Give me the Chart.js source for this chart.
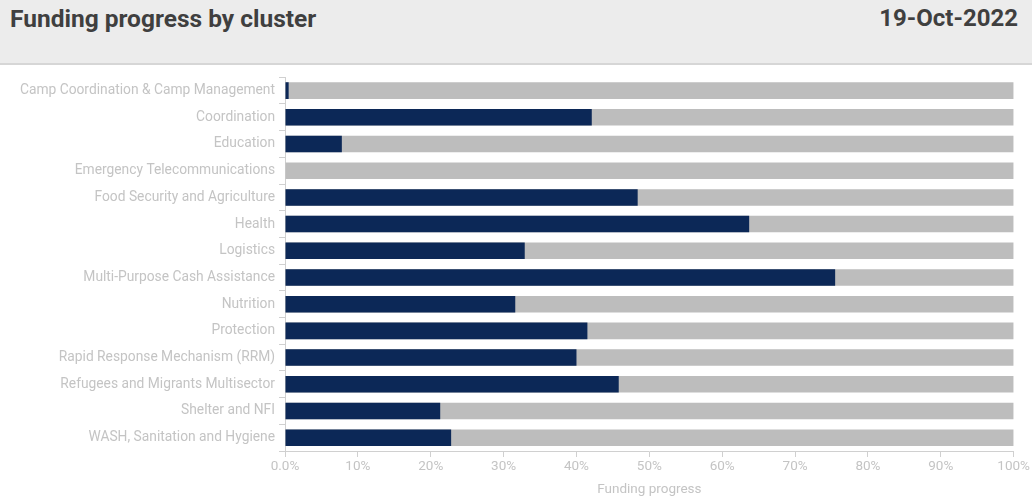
<!DOCTYPE html>
<html>
<head>
<meta charset="utf-8">
<script src="https://cdn.jsdelivr.net/npm/chart.js@4"></script>
<style>
    html, body {
        margin: 0;
        padding: 0;
        width: 1032px;
        height: 502px;
        overflow: hidden;
        background: #ffffff;
        font-family: Roboto, 'Noto Sans', sans-serif;
    }
    .header {
        position: relative;
        height: 63px;
        background: #ececec;
        border-bottom: 2px solid #d6d6d6;
    }
    .header .title {
        position: absolute;
        left: 10px;
        top: 4px;
        font-size: 24.5px;
        font-weight: bold;
        color: #3f3f3f;
    }
    .header .date {
        position: absolute;
        right: 14px;
        top: 4px;
        font-size: 24px;
        font-weight: bold;
        color: #3f3f3f;
    }
    .chart-box {
        position: relative;
        width: 1032px;
        height: 437px;
    }
</style>
</head>
<body>
<div class="header">
    <div class="title">Funding progress by cluster</div>
    <div class="date">19-Oct-2022</div>
</div>
<div class="chart-box">
    <canvas id="barChart"></canvas>
</div>
<script>
// clusters, top to bottom
const clusters = [
    'Camp Coordination & Camp Management',
    'Coordination',
    'Education',
    'Emergency Telecommunications',
    'Food Security and Agriculture',
    'Health',
    'Logistics',
    'Multi-Purpose Cash Assistance',
    'Nutrition',
    'Protection',
    'Rapid Response Mechanism (RRM)',
    'Refugees and Migrants Multisector',
    'Shelter and NFI',
    'WASH, Sanitation and Hygiene'
];

// funded share of requirements (%)
const fundedPct = [0.5, 42.1, 7.8, 0, 48.4, 63.7, 32.9, 75.5, 31.6, 41.5, 40.0, 45.8, 21.3, 22.8];

// full requirement bar (%)
const requiredPct = [100, 100, 100, 100, 100, 100, 100, 100, 100, 100, 100, 100, 100, 100];

const xTicks = [0, 10, 20, 30, 40, 50, 60, 70, 80, 90, 100];

const labelColor = '#c4c4c4';
const axisColor = '#d0d0d0';

const ctx = document.getElementById('barChart').getContext('2d');
const barChart = new Chart(ctx, {
    type: 'bar',
    data: {
        labels: clusters,
        datasets: [
            {
                label: 'Funded',
                data: fundedPct,
                backgroundColor: '#0c2857',
                barPercentage: 0.62,
                categoryPercentage: 1
            },
            {
                label: 'Requirements',
                data: requiredPct,
                backgroundColor: '#bdbdbd',
                barPercentage: 0.62,
                categoryPercentage: 1
            }
        ]
    },
    options: {
        indexAxis: 'y',
        responsive: true,
        maintainAspectRatio: false,
        animation: false,
        layout: {
            padding: { top: 10, right: 7, left: 0, bottom: 0 }
        },
        plugins: {
            legend: { display: false },
            tooltip: { enabled: false }
        },
        scales: {
            y: {
                stacked: true,
                afterFit: function (scale) {
                    scale.width = 285;
                },
                grid: {
                    display: true,
                    drawOnChartArea: false,
                    offset: true,
                    tickLength: 6,
                    color: axisColor
                },
                border: { color: axisColor },
                ticks: {
                    color: labelColor,
                    padding: 4,
                    font: { family: 'Roboto', size: 13.8 }
                }
            },
            x: {
                stacked: false,
                min: 0,
                max: 100,
                afterBuildTicks: function (scale) {
                    scale.ticks = xTicks.map(v => ({ value: v }));
                },
                afterFit: function (scale) {
                    scale.height = 51;
                },
                grid: {
                    display: true,
                    drawOnChartArea: false,
                    tickLength: 6,
                    color: axisColor
                },
                border: { color: axisColor },
                ticks: {
                    color: labelColor,
                    padding: 2,
                    maxRotation: 0,
                    font: { family: 'Roboto', size: 13.5 },
                    callback: function (value) {
                        return value === 0 ? '0.0%' : value + '%';
                    }
                },
                title: {
                    display: true,
                    text: 'Funding progress',
                    color: labelColor,
                    padding: { top: 0, bottom: 4 },
                    font: { family: 'Roboto', size: 13.5 }
                }
            }
        }
    }
});
</script>
</body>
</html>
